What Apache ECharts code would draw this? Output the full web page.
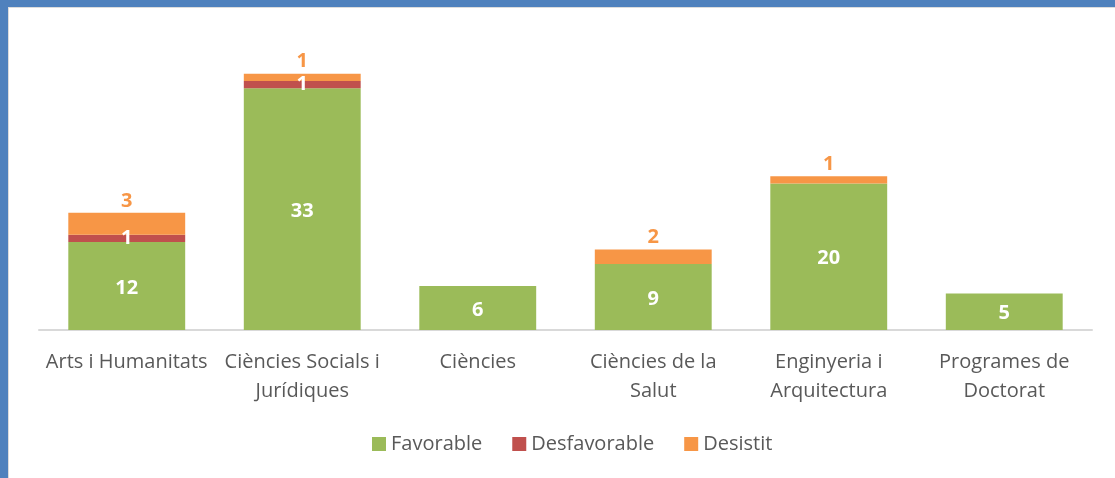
<!DOCTYPE html>
<html>
<head>
<meta charset="utf-8">
<script src="https://cdn.jsdelivr.net/npm/echarts@6/dist/echarts.min.js"></script>
<style>
  html, body { margin: 0; padding: 0; background: #fff; }
  #chart { position: absolute; left: 0; top: 0; width: 1115px; height: 478px; }
  .frame-top { position: absolute; left: 0; top: 0; width: 1115px; height: 7px; background: #4f81bd; }
  .frame-left { position: absolute; left: 0; top: 0; width: 8px; height: 478px; background: #4f81bd; }
  .inner-top { position: absolute; left: 8px; top: 7px; width: 1107px; height: 1px; background: #dcdcdc; }
  .inner-left { position: absolute; left: 8px; top: 7px; width: 1px; height: 471px; background: #dcdcdc; }
</style>
</head>
<body>
<div id="chart"></div>
<div class="frame-top"></div>
<div class="frame-left"></div>
<div class="inner-top"></div>
<div class="inner-left"></div>
<script>
  const categories = [
    'Arts i Humanitats',
    'Ciències Socials i\nJurídiques',
    'Ciències',
    'Ciències de la\nSalut',
    'Enginyeria i\nArquitectura',
    'Programes de\nDoctorat'
  ];
  const favorable = [12, 33, 6, 9, 20, 5];
  const desfavorable = [1, 1, null, null, null, null];
  const desistit = [3, 1, null, 2, 1, null];

  const font = '"Open Sans", "Noto Sans", sans-serif';

  const myChart = echarts.init(document.getElementById('chart'));

  const option = {
    animation: false,
    textStyle: { fontFamily: font },
    grid: { left: 39, right: 23, top: 37, bottom: 148 },
    legend: {
      bottom: 19,
      left: 367,
      itemWidth: 14,
      itemHeight: 14,
      itemGap: 30,
      icon: 'rect',
      textStyle: { color: '#595959', fontSize: 20, fontFamily: font },
      data: ['Favorable', 'Desfavorable', 'Desistit']
    },
    xAxis: {
      type: 'category',
      data: categories,
      axisLine: { lineStyle: { color: '#d9d9d9', width: 2 } },
      axisTick: { show: false },
      axisLabel: {
        interval: 0,
        color: '#595959',
        fontSize: 20,
        lineHeight: 29,
        margin: 18,
        fontFamily: font
      }
    },
    yAxis: {
      type: 'value',
      min: 0,
      max: 40,
      show: false,
      splitLine: { show: false }
    },
    series: [
      {
        name: 'Favorable',
        type: 'bar',
        stack: 'total',
        barWidth: '66.6%',
        itemStyle: { color: '#9bbb59' },
        label: {
          show: true,
          position: 'inside',
          offset: [0, 2],
          color: '#fff',
          fontWeight: 'bold',
          fontSize: 20,
          fontFamily: font
        },
        data: favorable
      },
      {
        name: 'Desfavorable',
        type: 'bar',
        stack: 'total',
        itemStyle: { color: '#c0504d' },
        label: {
          show: true,
          position: 'inside',
          offset: [0, 2],
          color: '#fff',
          fontWeight: 'bold',
          fontSize: 20,
          fontFamily: font
        },
        labelLayout: { hideOverlap: false },
        data: desfavorable
      },
      {
        name: 'Desistit',
        type: 'bar',
        stack: 'total',
        itemStyle: { color: '#f79646' },
        label: {
          show: true,
          position: 'top',
          distance: 2,
          color: '#f79646',
          fontWeight: 'bold',
          fontSize: 20,
          fontFamily: font
        },
        data: desistit
      }
    ]
  };

  myChart.setOption(option);
  window.addEventListener('resize', () => myChart.resize(), false);
</script>
</body>
</html>
